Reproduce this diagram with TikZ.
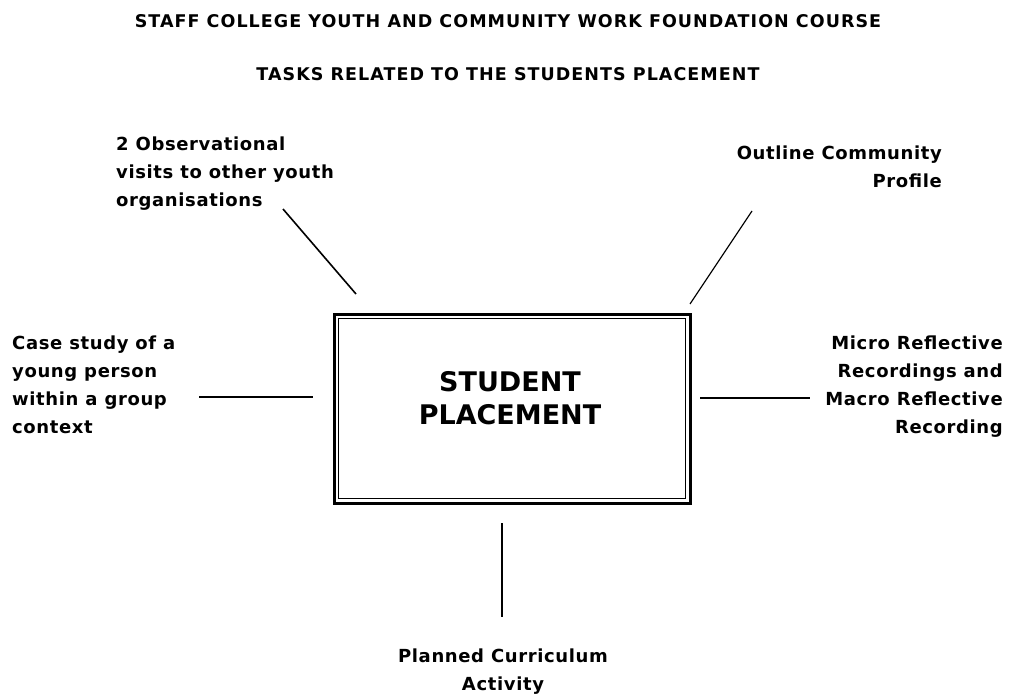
\documentclass[tikz,border=0pt]{standalone}
\usepackage{fontspec}
\setmainfont{DejaVu Sans}
\newfontfamily\titlefont[LetterSpace=6]{DejaVu Sans}
\newfontfamily\labelfont[LetterSpace=3.5]{DejaVu Sans}
\begin{document}
\begin{tikzpicture}[x=1pt,y=-1pt,
  title/.style={font=\titlefont\bfseries\fontsize{17.5}{21}\selectfont, inner sep=0pt, anchor=base},
  lbl/.style={font=\labelfont\bfseries\fontsize{18}{28}\selectfont, inner sep=0pt},
  conn/.style={line width=1.6pt, line cap=butt},
  boxtext/.style={font=\bfseries\fontsize{27}{33}\selectfont, align=center}]
\useasboundingbox (0,0) rectangle (1010,698);
\node[title] (t1) at (508,28) {STAFF COLLEGE YOUTH AND COMMUNITY WORK FOUNDATION COURSE};
\node[title] (t2) at (508,81) {TASKS RELATED TO THE STUDENTS PLACEMENT};
% central box
\node[draw, line width=3pt, minimum width=356pt, minimum height=189pt, inner sep=0pt] (box) at (512,408.5) {};
\draw[line width=1pt] ([shift={(6,6)}]box.north west) rectangle ([shift={(-6,-6)}]box.south east);
\node[boxtext] (bt) at (510,398) {STUDENT\\PLACEMENT};
% labels
\node[lbl, anchor=north west, align=left] (obs) at (116,137) {2 Observational\\visits to other youth\\organisations};
\node[lbl, anchor=north east, align=right] (ocp) at (942,146) {Outline Community\\Profile};
\node[lbl, anchor=north west, align=left] (case) at (12,336) {Case study of a\\young person\\within a group\\context};
\node[lbl, anchor=north east, align=right] (mrr) at (1003,336) {Micro Reflective\\Recordings and\\Macro Reflective\\Recording};
\node[lbl, anchor=north, align=center] (pca) at (503,649) {Planned Curriculum\\Activity};
% connector ends
\coordinate (a1) at (283,209); \coordinate (a2) at (356,294);
\coordinate (b1) at (752,211); \coordinate (b2) at (690,304);
\coordinate (c1) at (199,397); \coordinate (c2) at (313,397);
\coordinate (d1) at (700,398); \coordinate (d2) at (810,398);
\coordinate (e1) at (502,523); \coordinate (e2) at (502,617);
\draw[conn] (a1) -- (a2);
\draw[conn, line width=1.2pt] (b1) -- (b2);
\draw[conn] (c1) -- (c2);
\draw[conn] (d1) -- (d2);
\draw[conn] (e1) -- (e2);
\end{tikzpicture}
\end{document}
